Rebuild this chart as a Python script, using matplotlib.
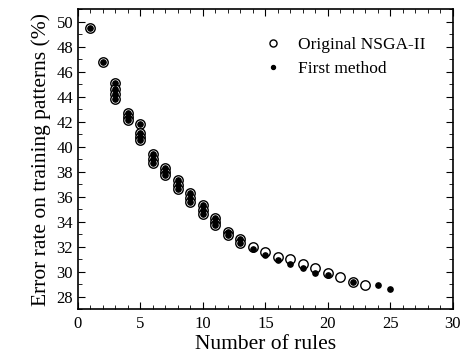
import matplotlib
matplotlib.use('Agg')
import matplotlib.pyplot as plt
from matplotlib.ticker import MultipleLocator

plt.rcParams['font.family'] = ['Liberation Serif', 'DejaVu Serif']

# Original NSGA-II (open circles)
orig_x = [1, 2, 3, 3, 3, 3, 4, 4, 4, 5, 5, 5, 5, 6, 6, 6, 7, 7, 7, 8, 8, 8,
          9, 9, 9, 10, 10, 10, 11, 11, 11, 12, 12, 13, 13, 14, 15, 16, 17,
          18, 19, 20, 21, 22, 23]
orig_y = [49.5, 46.8, 45.1, 44.6, 44.2, 43.8, 42.7, 42.4, 42.1, 41.8, 41.1,
          40.8, 40.5, 39.4, 39.0, 38.7, 38.3, 38.0, 37.7, 37.3, 36.9, 36.6,
          36.3, 35.9, 35.6, 35.3, 34.9, 34.6, 34.3, 34.0, 33.7, 33.2, 32.9,
          32.6, 32.3, 32.0, 31.6, 31.2, 31.0, 30.6, 30.3, 29.9, 29.6, 29.2,
          28.9]

# First method (filled dots)
first_x = [1, 2, 3, 3, 3, 3, 4, 4, 4, 5, 5, 5, 5, 6, 6, 6, 7, 7, 7, 8, 8, 8,
           9, 9, 9, 10, 10, 10, 11, 11, 11, 12, 12, 13, 13, 14, 15, 16, 17,
           18, 19, 20, 22, 24, 25]
first_y = [49.5, 46.8, 45.1, 44.6, 44.2, 43.8, 42.7, 42.4, 42.1, 41.8, 41.1,
           40.8, 40.5, 39.4, 39.0, 38.7, 38.3, 38.0, 37.7, 37.3, 36.9, 36.6,
           36.3, 35.9, 35.6, 35.3, 34.9, 34.6, 34.3, 34.0, 33.7, 33.2, 32.9,
           32.6, 32.3, 31.8, 31.3, 30.9, 30.6, 30.3, 29.9, 29.7, 29.2, 28.9,
           28.6]

fig = plt.figure(figsize=(4.64, 3.64), dpi=100)
ax = fig.add_axes([0.168, 0.151, 0.808, 0.824])

ax.plot(orig_x, orig_y, 'o', ms=6.8, mfc='white', mec='black', mew=1.0,
        ls='none', label='Original NSGA-II')
ax.plot(first_x, first_y, 'o', ms=3.8, mfc='black', mec='black',
        ls='none', label='First method')

ax.set_xlim(0, 30)
ax.set_ylim(27, 51)
ax.xaxis.set_major_locator(MultipleLocator(5))
ax.xaxis.set_minor_locator(MultipleLocator(1))
ax.yaxis.set_minor_locator(MultipleLocator(1))
ax.set_yticks(range(28, 51, 2))
ax.tick_params(which='both', direction='in', top=True, right=True, labelsize=12)
ax.tick_params(which='major', length=5)
ax.tick_params(which='minor', length=3)
ax.tick_params(axis='x', pad=5)
for s in ax.spines.values():
    s.set_linewidth(1.2)

ax.set_xlabel('Number of rules', fontsize=15.5, labelpad=2)
ax.set_ylabel('Error rate on training patterns (%)', fontsize=15.5, labelpad=4)

leg = ax.legend(loc='upper left', frameon=False, fontsize=12.5, handlelength=1.0,
                handletextpad=0.95, bbox_to_anchor=(0.455, 0.96),
                labelspacing=0.44, markerscale=0.75)

fig.savefig('out.png', dpi=100)
